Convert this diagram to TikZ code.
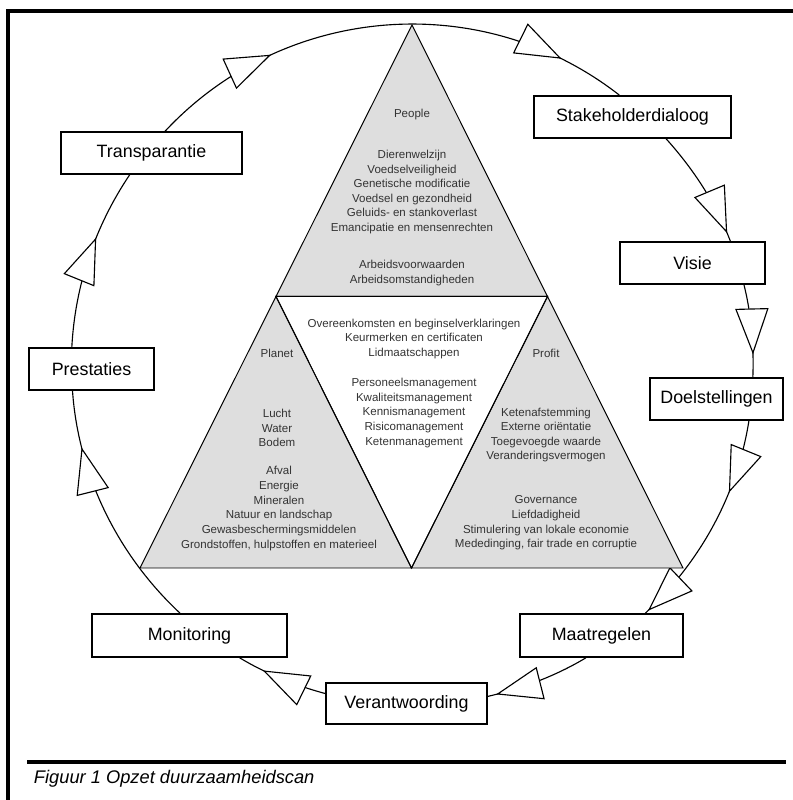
\documentclass[tikz,border=0pt]{standalone}
\usepackage{fontspec}
\setmainfont{Liberation Sans}
\usetikzlibrary{calc,arrows.meta,decorations.markings}
\pgfdeclarelayer{back}
\pgfsetlayers{back,main}
\tikzset{
  stage/.style={draw, fill=white, line width=1.2pt, inner sep=0pt,
    minimum height=1.05cm, font=\fontsize{12.7}{15}\selectfont},
  theme list/.style={align=center, inner sep=0pt, text=black!80,
    font=\fontsize{8.2}{10.4}\selectfont},
  pillar/.style={fill=black!13, draw, line width=0.7pt},
  flow head/.tip={Triangle[length=1.15cm, width=0.83cm, fill=white, line width=0.8pt]},
  ring/.style={line width=0.8pt},
  tip at/.style={postaction={decorate,
    decoration={markings, mark=at position #1 with {\arrow{flow head}}}}}
}

\begin{document}
\begin{tikzpicture}[x=0.025cm, y=0.025cm]
  \useasboundingbox (0,0) rectangle (793,800);
  \draw[line width=2.2pt] (793,789) -- (8,789) -- (8,0);
  \draw[line width=2.2pt] (27,38) -- (786,38);
  \node (caption) [anchor=base west, font=\fontsize{13}{15}\selectfont\itshape] at(29,17) {Figuur 1 Opzet duurzaamheidscan};

  \coordinate (apex) at (412,775);
  \coordinate (left corner) at (140,232);
  \coordinate (right corner) at (683,232);
  \coordinate (west mid) at ($(apex)!0.5!(left corner)$);
  \coordinate (east mid) at ($(apex)!0.5!(right corner)$);
  \coordinate (south mid) at ($(left corner)!0.5!(right corner)$);
  \draw[pillar] (apex) -- (west mid) -- (east mid) -- cycle;
  \draw[pillar] (west mid) -- (left corner) -- (south mid) -- cycle;
  \draw[pillar] (east mid) -- (south mid) -- (right corner) -- cycle;
  \draw[line width=0.7pt] (west mid) -- (east mid) -- (south mid) -- cycle;

  \node (people) [theme list] at(412,685) {People};
  \node (people_a) [theme list] at(412,608) {Dierenwelzijn\\Voedselveiligheid\\Genetische modificatie\\Voedsel en gezondheid\\Geluids- en stankoverlast\\Emancipatie en mensenrechten};
  \node (people_b) [theme list] at(412,527) {Arbeidsvoorwaarden\\Arbeidsomstandigheden};
  \node (core_a) [theme list] at(414,461) {Overeenkomsten en beginselverklaringen\\Keurmerken en certificaten\\Lidmaatschappen};
  \node (core_b) [theme list] at(414,387) {Personeelsmanagement\\Kwaliteitsmanagement\\Kennismanagement\\Risicomanagement\\Ketenmanagement};
  \node (planet) [theme list] at(277,447) {Planet};
  \node (planet_a) [theme list] at(277,372) {Lucht\\Water\\Bodem};
  \node (planet_b) [theme list] at(279,291.5) {Afval\\Energie\\Mineralen\\Natuur en landschap\\Gewasbeschermingsmiddelen\\Grondstoffen, hulpstoffen en materieel};
  \node (profit) [theme list] at(546,447) {Profit};
  \node (profit_a) [theme list] at(546,365) {Ketenafstemming\\Externe oriëntatie\\Toegevoegde waarde\\Veranderingsvermogen};
  \node (profit_b) [theme list] at(546,277) {Governance\\Liefdadigheid\\Stimulering van lokale economie\\Mededinging, fair trade en corruptie};

  \node (transparantie) [stage, minimum width=4.525cm] at(151.5,647) {Transparantie};
  \node (prestaties) [stage, minimum width=3.125cm] at(91.5,431) {Prestaties};
  \node (stakeholder) [stage, minimum width=4.925cm] at(632.5,683) {Stakeholderdialoog};
  \node (visie) [stage, minimum width=3.625cm] at(692.5,537) {Visie};
  \node (doelen) [stage, minimum width=3.325cm] at(716.5,401) {Doelstellingen};
  \node (maatregelen) [stage, minimum width=4.075cm, minimum height=1.075cm] at(601.5,164.5) {Maatregelen};
  \node (verantwoording) [stage, minimum width=4.025cm, minimum height=1.025cm] at(406.5,96.5) {Verantwoording};
  \node (monitoring) [stage, minimum width=4.875cm, minimum height=1.075cm] at(189.5,164.5) {Monitoring};

  \begin{pgfonlayer}{back}
    \draw[ring, tip at=0.263, tip at=0.863] (transparantie.58) to[out=47, in=142, looseness=0.98] (stakeholder.121);
    \draw[ring, tip at=0.93] (stakeholder.-33) to[out=-48, in=111, looseness=0.86] (visie.30);
    \draw[ring, tip at=0.756] (visie.-23) to[out=-76, in=88, looseness=0.85] (doelen.31);
    \draw[ring, tip at=0.336, tip at=0.984] (doelen.-34) to[out=-99, in=43, looseness=0.88] (maatregelen.27);
    \draw[ring, tip at=0.92] (maatregelen.235) to[out=-149, in=13, looseness=0.86] (verantwoording.5);
    \draw[ring, tip at=0.716] (verantwoording.173) to[out=165, in=-31, looseness=0.85] (monitoring.-24);
    \draw[ring, tip at=0.773] (monitoring.113) to[out=137, in=274, looseness=0.88] (prestaties.229);
    \draw[ring, tip at=0.613] (prestaties.132) to[out=87, in=236, looseness=0.87] (transparantie.225);
  \end{pgfonlayer}
\end{tikzpicture}
\end{document}
